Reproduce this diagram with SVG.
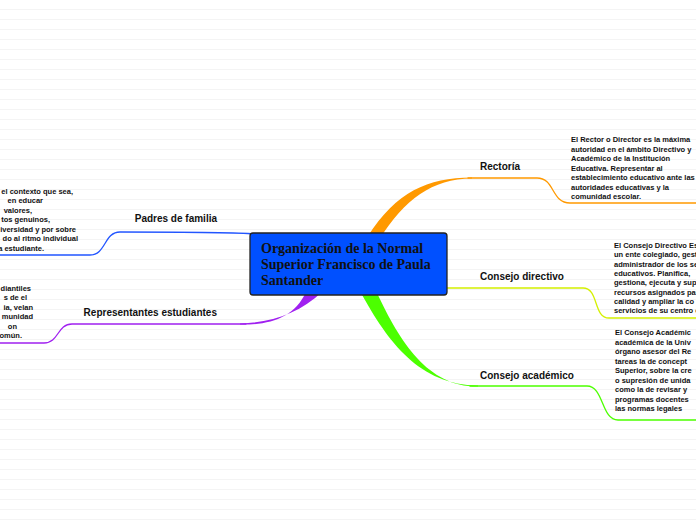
<svg xmlns="http://www.w3.org/2000/svg" width="696" height="520" viewBox="0 0 696 520">
<defs>
<pattern id="paper" width="10" height="10" patternUnits="userSpaceOnUse">
<rect width="10" height="10" fill="#ffffff"/>
<rect y="9" width="10" height="1" fill="#f4f4f4"/>
</pattern>
</defs>
<style>
.lbl{font-family:"Liberation Sans",Arial,sans-serif;font-weight:bold;font-size:10px;fill:#111}
.desc{font-family:"Liberation Sans",Arial,sans-serif;font-weight:bold;font-size:7.5px;fill:#111}
.thin{fill:none;stroke-width:1.3;stroke-linecap:round}
.title{font-family:"Liberation Serif","Times New Roman",serif;font-weight:bold;font-size:14px;fill:#111}
</style>
<rect width="696" height="520" fill="url(#paper)"/>
<g id="connectors">
<path d="M368,236 C396,192 428,177.3 472,177.4 L472,178.6 C432,179 405,199 379,240 Z" fill="#ff9900"/>
<path class="thin" stroke="#ff9900" d="M468,178 L537,178 C555,178 551,203 570,203 L696,203"/>
<path class="thin" stroke="#d4f000" stroke-width="1.6" d="M447,288 L583,288 C599,288 593,318 609,318 L696,318"/>
<path d="M361,293 C388,342 420,385.4 478,385.4 L478,386.6 C428,387 400,342 377,293 Z" fill="#4cff00"/>
<path class="thin" stroke="#4cff00" d="M470,386 L587,386 C604,386 601,420 618,420 L696,420"/>
<path d="M322,292 C300,313 272,322.5 240,323.4 L240,324.6 C270,325 294,318 306,292 Z" fill="#a020f0"/>
<path class="thin" stroke="#a020f0" d="M246,324 L72,324 C57,324 59,343 44,343 L0,343"/>
<path class="thin" stroke="#2255ff" stroke-width="1.5" d="M254,234 C240,232.5 200,232 120,232 C104,232 106,255 90,255 L0,255"/>
</g>
<g id="central">
<rect x="250" y="233" width="197" height="62" rx="3" fill="#0050ff" stroke="#222" stroke-width="1.3"/>
<text class="title" x="261" y="253">Organización de la Normal</text>
<text class="title" x="261" y="269">Superior Francisco de Paula</text>
<text class="title" x="261" y="285">Santander</text>
</g>
<g id="rectoria">
<text class="lbl" x="480" y="170">Rectoría</text>
<text class="desc" x="571"><tspan x="571" y="142">El Rector o Director es la máxima</tspan><tspan x="571" y="151.5">autoridad en el ámbito Directivo y</tspan><tspan x="571" y="161">Académico de la Institución</tspan><tspan x="571" y="170.5">Educativa. Representar al</tspan><tspan x="571" y="180">establecimiento educativo ante las</tspan><tspan x="571" y="189.5">autoridades educativas y la</tspan><tspan x="571" y="199">comunidad escolar.</tspan></text>
</g>
<g id="consejo-directivo">
<text class="lbl" x="480" y="280">Consejo directivo</text>
<text class="desc"><tspan x="614" y="248">El Consejo Directivo Es</tspan><tspan x="614" y="257.3">un ente colegiado, gest</tspan><tspan x="614" y="266.6">administrador de los se</tspan><tspan x="614" y="275.9">educativos. Planifica,</tspan><tspan x="614" y="285.2">gestiona, ejecuta y sup</tspan><tspan x="614" y="294.5">recursos asignados par</tspan><tspan x="614" y="303.8">calidad y ampliar la co</tspan><tspan x="614" y="313.1">servicios de su centro e</tspan></text>
</g>
<g id="consejo-academico">
<text class="lbl" x="480" y="379">Consejo académico</text>
<text class="desc"><tspan x="615" y="335">El Consejo Académic</tspan><tspan x="615" y="344.5">académica de la Univ</tspan><tspan x="615" y="354">órgano asesor del Re</tspan><tspan x="615" y="363.5">tareas la de concept</tspan><tspan x="615" y="373">Superior, sobre la cre</tspan><tspan x="615" y="382.5">o supresión de unida</tspan><tspan x="615" y="392">como la de revisar y</tspan><tspan x="615" y="401.5">programas docentes</tspan><tspan x="615" y="411">las normas legales</tspan></text>
</g>
<g id="padres">
<text class="lbl" x="217" y="222" text-anchor="end">Padres de familia</text>
<text class="desc" text-anchor="end"><tspan x="73" y="193.5">n el contexto que sea,</tspan><tspan x="43" y="203">en educar</tspan><tspan x="32" y="212.5">valores,</tspan><tspan x="50" y="222">tos genuinos,</tspan><tspan x="76" y="231.5">iversidad y por sobre</tspan><tspan x="78" y="241">do al ritmo individual</tspan><tspan x="44" y="250.5">a estudiante.</tspan></text>
</g>
<g id="representantes">
<text class="lbl" x="217" y="316" text-anchor="end">Representantes estudiantes</text>
<text class="desc" text-anchor="end"><tspan x="31" y="290.5">diantiles</tspan><tspan x="27" y="300">s de el</tspan><tspan x="33" y="309.5">ia, velan</tspan><tspan x="33" y="319">munidad</tspan><tspan x="17" y="328.5">on</tspan><tspan x="22" y="338">omún.</tspan></text>
</g>
</svg>
